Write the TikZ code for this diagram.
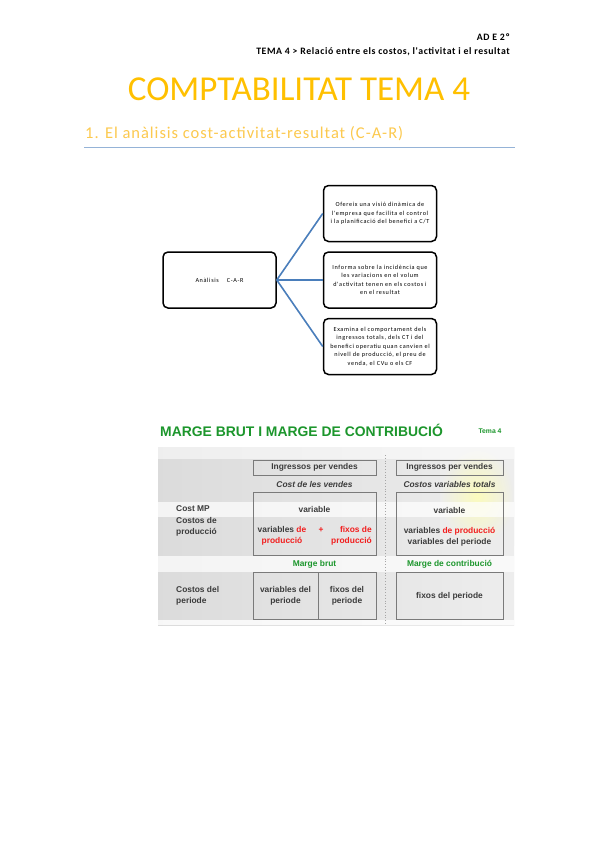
\documentclass[tikz,border=0pt]{standalone}
\usepackage{fontspec}
\setmainfont{Carlito}
\newfontfamily\slidefont{Liberation Sans}
\newfontfamily\spacedfont[LetterSpace=6]{Carlito}
\newfontfamily\widefont[LetterSpace=10]{Carlito}
\usetikzlibrary{positioning,calc}
\definecolor{titlegold}{HTML}{FFC000}
\definecolor{headgold}{HTML}{FCC94E}
\definecolor{rulecol}{HTML}{95B3D7}
\definecolor{linkblue}{HTML}{4A7EBB}
\definecolor{slidegreen}{HTML}{1C962C}
\definecolor{slidered}{HTML}{F21E1E}
\definecolor{slidetext}{HTML}{3C3C3C}
\definecolor{cellline}{HTML}{7A7A7A}

\begin{document}
\begin{tikzpicture}[
    x=1pt, y=-1pt,
    node distance=9pt and 46pt,
    carbox/.style={rectangle, draw, line width=1.5pt, rounded corners=5pt, minimum width=113pt, minimum height=56pt, align=center, inner sep=2pt},
    carlink/.style={draw=linkblue, line width=1.6pt},
    smalltxt/.style={font=\widefont\fontsize{6.2}{8.4}\selectfont},
    cell/.style={draw=cellline, line width=0.9pt},
    tab/.style={font=\slidefont\bfseries\fontsize{8.4}{11}\selectfont, text=slidetext, inner sep=0pt, align=center},
    tabhead/.style={tab, font=\slidefont\bfseries\itshape\fontsize{8.4}{9}\selectfont},
    margin/.style={tab, text=slidegreen}
]
\useasboundingbox (0,0) rectangle (599,848);
\fill[white] (0,0) rectangle (599,848);

% header
\node[anchor=south east, inner sep=0pt, font=\spacedfont\bfseries\fontsize{9.8}{10}\selectfont] (course) at (510,41) {AD E 2º};
\node[anchor=south east, inner sep=0pt, font=\spacedfont\bfseries\fontsize{9.8}{10}\selectfont] (topic) at (510,56) {TEMA 4 > Relació entre els costos, l'activitat i el resultat};

% titles
\node[text=titlegold, inner sep=0pt, font=\fontsize{35}{38}\selectfont] (title) at (299,89) {COMPTABILITAT TEMA 4};
\node[anchor=base west, text=headgold, inner sep=0pt, font=\spacedfont\fontsize{16.5}{18}\selectfont] (section) at (85,139) {1. El anàlisis cost-activitat-resultat (C-A-R)};
\draw[rulecol, line width=1pt] (84,147.5) -- (515,147.5);

% C-A-R diagram
\node[carbox, smalltxt] (car) at (219.5,280) {Anàlisis \quad C-A-R};
\node[carbox, smalltxt, right=of car] (informa) {Informa sobre la incidència que\\les variacions en el volum\\d'activitat tenen en els costos i\\en el resultat};
\node[carbox, smalltxt, above=of informa] (ofereix) {Ofereix una visió dinàmica de\\l'empresa que facilita el control\\i la planificació del benefici a C/T};
\node[carbox, smalltxt, below=of informa] (examina) {Examina el comportament dels\\ingressos totals, dels CT i del\\benefici operatiu quan canvien el\\nivell de producció, el preu de\\venda, el CVu o els CF};

\draw[carlink] (car.east) -- (ofereix.west);
\draw[carlink] (car.east) -- (informa.west);
\draw[carlink] (car.east) -- (examina.west);

% slide: marge brut i marge de contribucio
\node[anchor=west, inner sep=0pt, text=slidegreen, font=\slidefont\bfseries\fontsize{13.9}{15}\selectfont] (slidetitle) at (160,430) {MARGE BRUT I MARGE DE CONTRIBUCIÓ};
\node[inner sep=0pt, text=slidegreen, font=\slidefont\bfseries\fontsize{6.8}{8}\selectfont] (slidetema) at (490,431) {Tema 4};

\shade[left color=gray!28, right color=gray!14] (158,447) rectangle (514,625);
\shade[inner color=yellow!30!white, outer color=gray!14, opacity=0.8] (440,447) rectangle (514,545);
\fill[white, opacity=0.55] (158,447) rectangle (514,459);
\fill[white, opacity=0.7] (158,502) rectangle (514,517);
\fill[white, opacity=0.7] (158,556) rectangle (514,572);
\fill[white, opacity=0.8] (158,620) rectangle (514,625);
\draw[gray!70, line width=0.8pt, dotted] (385,455) -- (385,625);

% left column
\node[cell, tab, minimum width=123pt, minimum height=15pt] (ingL) at (314.5,467.5) {Ingressos per vendes};
\node[tabhead] (costvendes) at (314.5,484) {Cost de les vendes};
\draw[cell] (253,492) rectangle (376,555);
\node[tab] (varL) at (314.5,509) {variable};
\node[tab] (varprod) at (282,535.5) {variables \textcolor{slidered}{de}\\\textcolor{slidered}{producció}};
\node[tab] (plus) at (321,530) {\textcolor{slidered}{+}};
\node[tab, align=right, anchor=east] (fixprod) at (372,535.5) {\textcolor{slidered}{fixos de}\\\textcolor{slidered}{producció}};
\node[margin] (margebrut) at (314.5,564) {Marge brut};
\draw[cell] (253,572) rectangle (376,619);
\draw[cell] (318,572) -- (318,619);
\node[tab] (varper) at (285.5,595.5) {variables del\\periode};
\node[tab] (fixper) at (347,595.5) {fixos del\\periode};

% row labels
\node[tab, anchor=west, align=left] (costmp) at (176,509) {Cost MP};
\node[tab, anchor=west, align=left] (costprod) at (176,527) {Costos de\\producció};
\node[tab, anchor=west, align=left] (costper) at (176,595.5) {Costos del\\periode};

% right column
\node[cell, tab, minimum width=107pt, minimum height=15pt] (ingR) at (449.5,467.5) {Ingressos per vendes};
\node[tabhead] (cvt) at (449.5,484) {Costos variables totals};
\draw[cell] (396,492) rectangle (503,555);
\node[tab] (varR) at (449.5,510) {variable};
\node[tab] (varprodR) at (449.5,536.5) {variables \textcolor{slidered}{de producció}\\variables del periode};
\node[margin] (margecontr) at (449.5,564) {Marge de contribució};
\draw[cell] (396,572) rectangle (503,619);
\node[tab] (fixperR) at (449.5,596) {fixos del periode};
\end{tikzpicture}
\end{document}
